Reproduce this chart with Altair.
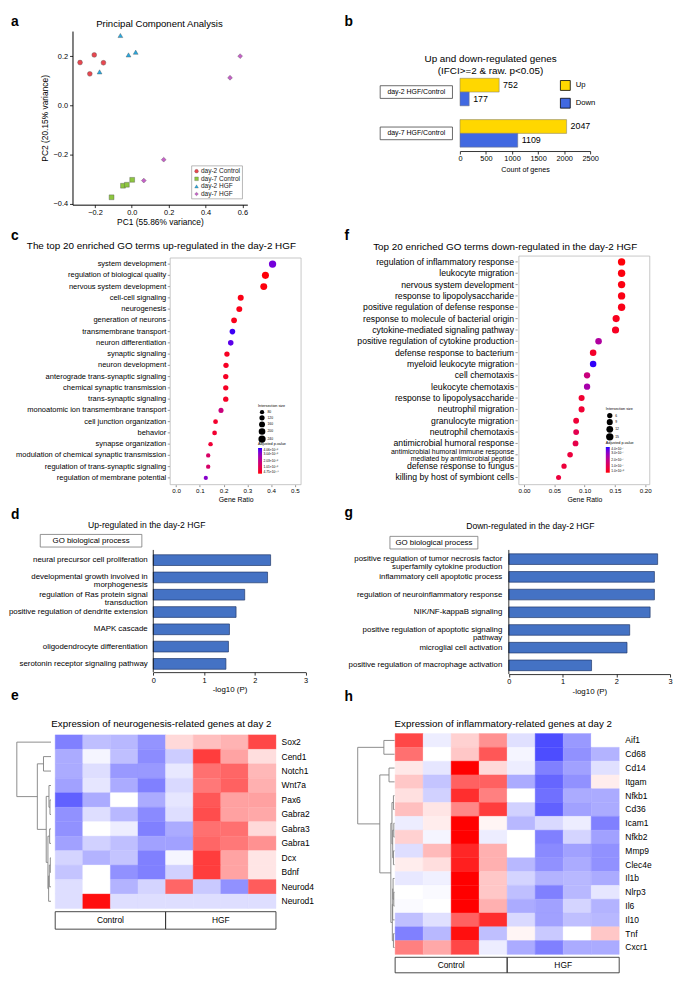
import altair as alt
import pandas as pd

FONT = "Liberation Sans"

# ---------------- data ----------------
pca_groups = ["day-2 Control", "day-7 Control", "day-2 HGF", "day-7 HGF"]
pca_colors = ["#E8474F", "#8DC63F", "#27A9E1", "#C660C8"]
pca_shapes = ["circle", "square", "triangle-up", "diamond"]
pc1_d2_control = [-0.281, -0.228, -0.204, -0.154]
pc2_d2_control = [0.174, 0.128, 0.205, 0.173]
pc1_d7_control = [-0.110, -0.048, -0.027, 0.002]
pc2_d7_control = [-0.374, -0.327, -0.323, -0.303]
pc1_d2_hgf = [-0.062, -0.175, -0.018, 0.021]
pc2_d2_hgf = [0.284, 0.136, 0.205, 0.216]
pc1_d7_hgf = [0.588, 0.533, 0.173, 0.065]
pc2_d7_hgf = [0.200, 0.112, -0.221, -0.306]

deg_comparisons = ["day-2 HGF/Control", "day-7 HGF/Control"]
deg_series = ["Up", "Down"]
deg_colors = ["#FFD700", "#4169E1"]
deg_up = [752, 2047]
deg_down = [177, 1109]

c_terms = ["system development", "regulation of biological quality", "nervous system development",
           "cell-cell signaling", "neurogenesis", "generation of neurons", "transmembrane transport",
           "neuron differentiation", "synaptic signaling", "neuron development",
           "anterograde trans-synaptic signaling", "chemical synaptic transmission",
           "trans-synaptic signaling", "monoatomic ion transmembrane transport",
           "cell junction organization", "behavior", "synapse organization",
           "modulation of chemical synaptic transmission", "regulation of trans-synaptic signaling",
           "regulation of membrane potential"]
c_ratio = [0.406, 0.376, 0.369, 0.272, 0.266, 0.244, 0.237, 0.230, 0.214, 0.210,
           0.209, 0.209, 0.209, 0.189, 0.166, 0.162, 0.145, 0.135, 0.135, 0.125]
c_count = [244, 226, 221, 163, 160, 146, 142, 138, 128, 126, 125, 125, 125, 113, 100, 97, 87, 81, 81, 75]
c_padj = [3.45, 0.05, 0.08, 0.15, 0.18, 0.22, 3.9, 3.7, 0.3, 0.32, 0.33, 0.34, 0.35, 1.8, 0.45, 0.5,
          0.6, 1.4, 1.45, 3.2]

f_terms = ["regulation of inflammatory response", "leukocyte migration", "nervous system development",
           "response to lipopolysaccharide", "positive regulation of defense response",
           "response to molecule of bacterial origin", "cytokine-mediated signaling pathway",
           "positive regulation of cytokine production", "defense response to bacterium",
           "myeloid leukocyte migration", "cell chemotaxis", "leukocyte chemotaxis",
           "response to lipopolysaccharide", "neutrophil migration", "granulocyte migration",
           "neutrophil chemotaxis", "antimicrobial humoral response",
           "antimicrobial humoral immune response\nmediated by antimicrobial peptide",
           "defense response to fungus", "killing by host of symbiont cells"]
f_ratio = [0.161, 0.161, 0.161, 0.161, 0.161, 0.152, 0.151, 0.123, 0.114, 0.114,
           0.104, 0.104, 0.095, 0.095, 0.086, 0.086, 0.085, 0.076, 0.066, 0.057]
f_count = [15, 15, 15, 15, 15, 14, 14, 11, 11, 11, 10, 10, 9, 9, 8, 8, 8, 7, 6, 5]
f_padj = [0.05, 0.1, 0.12, 0.15, 0.18, 0.25, 0.3, 2.4, 0.4, 3.9, 1.8, 2.6, 0.5, 0.55, 0.6, 1.0,
          0.9, 0.7, 0.65, 0.7]

d_terms = ["neural precursor cell proliferation", "developmental growth involved in\nmorphogenesis",
           "regulation of Ras protein signal\ntransduction", "positive regulation of dendrite extension",
           "MAPK cascade", "oligodendrocyte differentiation", "serotonin receptor signaling pathway"]
d_logp = [2.31, 2.25, 1.80, 1.63, 1.50, 1.48, 1.43]

g_terms = ["positive regulation of tumor necrosis factor\nsuperfamily cytokine production",
           "inflammatory cell apoptotic process", "regulation of neuroinflammatory response",
           "NIK/NF-kappaB signaling", "positive regulation of apoptotic signaling\npathway",
           "microglial cell activation", "positive regulation of macrophage activation"]
g_logp = [2.77, 2.71, 2.71, 2.63, 2.25, 2.20, 1.54]

sample_groups = ["Control", "Control", "Control", "Control", "HGF", "HGF", "HGF", "HGF"]

e_genes = ["Sox2", "Cend1", "Notch1", "Wnt7a", "Pax6", "Gabra2", "Gabra3", "Gabra1", "Dcx", "Bdnf",
           "Neurod4", "Neurod1"]
e_values = [
    [-0.50, -0.25, -0.28, -0.42, 0.15, 0.25, 0.30, 0.72],
    [-0.33, -0.04, -0.25, -0.45, -0.20, 0.76, 0.36, 0.13],
    [-0.33, -0.13, -0.40, -0.40, -0.09, 0.56, 0.60, 0.28],
    [-0.37, -0.10, -0.33, -0.50, -0.15, 0.53, 0.62, 0.31],
    [-0.62, -0.33, 0.00, -0.33, -0.10, 0.66, 0.37, 0.37],
    [-0.43, -0.13, -0.28, -0.46, -0.13, 0.70, 0.37, 0.34],
    [-0.43, 0.00, -0.07, -0.50, -0.33, 0.56, 0.56, 0.15],
    [-0.37, -0.18, -0.25, -0.37, -0.37, 0.60, 0.53, 0.43],
    [-0.17, -0.30, -0.23, -0.50, -0.04, 0.76, 0.36, 0.10],
    [-0.23, 0.00, -0.43, -0.50, -0.18, 0.76, 0.36, 0.10],
    [-0.13, 0.00, -0.30, -0.17, 0.60, -0.21, -0.43, 0.64],
    [-0.13, 0.94, -0.13, -0.13, -0.13, -0.13, -0.13, -0.13],
]
# dendrogram: (left, right, merge height), leaves are row indices
e_tree = (0, ((1, 2, 0.22),
              ((3, (4, 5, 0.03), 0.06),
               ((6, 7, 0.04), (((8, 9, 0.02), 10, 0.05), 11, 0.07), 0.09), 0.14), 0.40), 1.0)

h_genes = ["Aif1", "Cd68", "Cd14", "Itgam", "Nfkb1", "Cd36", "Icam1", "Nfkb2", "Mmp9", "Clec4e",
           "Il1b", "Nlrp3", "Il6", "Il10", "Tnf", "Cxcr1"]
h_values = [
    [0.72, -0.07, 0.18, 0.43, -0.12, -0.70, -0.40, 0.00],
    [0.56, 0.00, 0.22, 0.66, -0.04, -0.70, -0.43, -0.30],
    [0.09, -0.10, 1.00, 0.15, -0.07, -0.50, -0.37, -0.12],
    [0.22, -0.23, 0.62, 0.62, -0.33, -0.60, -0.43, 0.07],
    [0.12, -0.18, 0.82, 0.50, 0.00, -0.56, -0.33, -0.33],
    [0.25, 0.10, 0.47, 0.76, -0.18, -0.62, -0.37, -0.33],
    [-0.07, 0.07, 1.00, 0.04, -0.28, -0.15, -0.07, -0.50],
    [0.18, -0.04, 1.00, -0.07, 0.00, -0.50, -0.17, -0.37],
    [-0.13, 0.27, 0.85, 0.31, 0.00, -0.46, -0.37, -0.43],
    [0.07, 0.13, 0.88, 0.31, -0.28, -0.43, -0.33, -0.43],
    [-0.09, -0.06, 1.00, 0.22, -0.17, -0.30, -0.28, -0.33],
    [0.00, -0.02, 1.00, 0.22, -0.25, -0.50, -0.28, -0.10],
    [-0.02, 0.00, 1.00, 0.31, -0.33, -0.37, -0.17, -0.30],
    [-0.25, -0.12, 0.62, 0.82, -0.15, -0.37, -0.25, -0.28],
    [-0.50, -0.28, 0.94, -0.25, 0.04, -0.21, 0.00, 0.22],
    [0.50, 0.34, 0.72, -0.07, -0.33, -0.50, -0.33, -0.33],
]
h_tree = ((0, 1, 0.29),
          ((2, 3, 0.15),
           (((4, 5, 0.03), ((6, 7, 0.02), (8, 9, 0.03), 0.05), 0.07),
            (((10, (11, 12, 0.02), 0.04), 13, 0.05), (14, 15, 0.03), 0.06), 0.10), 0.40), 1.0)

# ---------------- layout helpers ----------------
def X(r):
    return (r - 4) * 0.99


def Y(r):
    return (r - 5) * 0.983


COLX = [0, 338]
COLW = [338, 327]
ROWY = [0, 213, 494, 683]
ROWH = [213, 281, 189, 287]


class Frame:
    def __init__(self, col, row):
        self.ox = COLX[col]
        self.oy = ROWY[row]
        self.w = COLW[col]
        self.h = ROWH[row]

    def x(self, r):
        return round(X(r) - self.ox, 2)

    def y(self, r):
        return round(Y(r) - self.oy, 2)


ONE = pd.DataFrame({"k": [0]})


def text_at(fr, txt, rx, ry, size, weight="normal", align="center", baseline="middle", **kw):
    return alt.Chart(ONE).mark_text(text=txt, fontSize=size, fontWeight=weight, align=align,
                                    baseline=baseline, font=FONT, color="black", **kw).encode(
        x=alt.value(max(0, fr.x(rx))), y=alt.value(max(0.5, fr.y(ry))))


def letter(fr, ch, rx, ry_base):
    return text_at(fr, ch, rx, ry_base, 14, weight="bold", align="left", baseline="alphabetic")


def box_at(fr, x0, x1, y0, y1, stroke="#444", sw=0.8):
    return alt.Chart(ONE).mark_rect(fill="white", fillOpacity=0, stroke=stroke, strokeWidth=sw).encode(
        x=alt.value(fr.x(x0)), x2=alt.value(fr.x(x1)), y=alt.value(fr.y(y0)), y2=alt.value(fr.y(y1)))


# ---------------- panel a ----------------
fa = Frame(0, 0)
pca_rows = []
for g, xs_, ys_ in zip(pca_groups,
                       [pc1_d2_control, pc1_d7_control, pc1_d2_hgf, pc1_d7_hgf],
                       [pc2_d2_control, pc2_d7_control, pc2_d2_hgf, pc2_d7_hgf]):
    for a_, b_ in zip(xs_, ys_):
        pca_rows.append({"group": g, "pc1": a_, "pc2": b_})
pca_df = pd.DataFrame(pca_rows)
leg_df = pd.DataFrame({"group": pca_groups})

xs_a = alt.Scale(domain=[-0.322, 0.627], range=[fa.x(67), fa.x(246)], nice=False, zero=False)
ys_a = alt.Scale(domain=[-0.404, 0.302], range=[fa.y(197), fa.y(18)], nice=False, zero=False)
col_a = alt.Scale(domain=pca_groups, range=pca_colors)
shp_a = alt.Scale(domain=pca_groups, range=pca_shapes)
pts_a = alt.Chart(pca_df).mark_point(filled=True, size=24, stroke="#555", strokeWidth=0.4, opacity=1).encode(
    x=alt.X("pc1:Q", scale=xs_a, axis=alt.Axis(values=[-0.2, 0, 0.2, 0.4, 0.6], format=".1f",
                                                 offset=fa.y(197) - fa.h, tickSize=3, labelFontSize=7.5,
                                                 labelPadding=1, title="PC1 (55.86% variance)",
                                                 titleFontSize=8.5, titlePadding=2, labelOverlap=False,
                                                 labelFlush=False)),
    y=alt.Y("pc2:Q", scale=ys_a, axis=alt.Axis(values=[-0.4, -0.2, 0, 0.2], format=".1f",
                                                 offset=-fa.x(67), tickSize=3, labelFontSize=7.5,
                                                 labelPadding=2, title="PC2 (20.15% variance)",
                                                 titleFontSize=8.5, titlePadding=4, labelOverlap=False,
                                                 labelFlush=False)),
    color=alt.Color("group:N", scale=col_a, legend=None),
    shape=alt.Shape("group:N", scale=shp_a, legend=None),
)
ys_leg = alt.Scale(type="point", domain=pca_groups, range=[fa.y(162.5), fa.y(186)], padding=0)
leg_box = box_at(fa, 189, 241, 157, 191, stroke="#999", sw=0.7)
leg_pts = alt.Chart(leg_df).mark_point(filled=True, size=14, stroke="#555", strokeWidth=0.3, opacity=1).encode(
    x=alt.value(fa.x(194)), y=alt.Y("group:N", scale=ys_leg, axis=None),
    color=alt.Color("group:N", scale=col_a, legend=None),
    shape=alt.Shape("group:N", scale=shp_a, legend=None))
leg_txt = alt.Chart(leg_df).mark_text(align="left", baseline="middle", fontSize=6.6, font=FONT,
                                      color="#222").encode(
    x=alt.value(fa.x(198.5)), y=alt.Y("group:N", scale=ys_leg, axis=None), text="group:N")
panel_a = alt.layer(
    letter(fa, "a", 2, 12.5),
    text_at(fa, "Principal Component Analysis", 156, 3.5, 9.7, baseline="top"),
    pts_a, leg_box, leg_pts, leg_txt,
).resolve_scale(y="independent").properties(width=fa.w, height=fa.h)

# ---------------- panel b ----------------
fb = Frame(1, 0)
b_rows = []
for gi, comp in enumerate(deg_comparisons):
    for si, (s, v) in enumerate(zip(deg_series, [deg_up[gi], deg_down[gi]])):
        b_rows.append({"comp": comp, "series": s, "v": v, "row": gi * 3 + si})
b_df = pd.DataFrame(b_rows)
b_grp = pd.DataFrame({"comp": deg_comparisons, "c": [gi * 3 + 1 for gi in range(len(deg_comparisons))]})

xs_b = alt.Scale(domain=[0, 2500], range=[fb.x(463.7), fb.x(597)], nice=False, zero=False)
ys_b = alt.Scale(domain=[0, 5], range=[fb.y(66.7), fb.y(137.7)], nice=False, zero=False)
bars_b = alt.Chart(b_df).transform_calculate(row1="datum.row + 1").mark_rect(stroke="#777", strokeWidth=0.5).encode(
    x=alt.X("v:Q", scale=xs_b, axis=alt.Axis(values=[0, 500, 1000, 1500, 2000, 2500], format="d",
                                               offset=fb.y(141.7) - fb.h, labelOverlap=False, labelFlush=False,
                                               tickSize=3, labelFontSize=7.5, labelPadding=1,
                                               title="Count of genes", titleFontSize=7.3, titlePadding=3,
                                               domainWidth=0.8)),
    x2=alt.datum(0),
    y=alt.Y("row:Q", scale=ys_b, axis=None), y2="row1:Q",
    color=alt.Color("series:N", scale=alt.Scale(domain=deg_series, range=deg_colors),
                    legend=alt.Legend(orient="none", legendX=fb.x(566), legendY=fb.y(68.5), title=None,
                                      symbolType="square", symbolSize=100, symbolStrokeColor="black",
                                      symbolStrokeWidth=0.8, labelFontSize=7.8, labelOffset=5, rowPadding=3)),
)
vals_b = alt.Chart(b_df).transform_calculate(rc="datum.row + 0.5").mark_text(
    align="left", baseline="middle", dx=4, fontSize=9, font=FONT, color="black").encode(
    x=alt.X("v:Q", scale=xs_b), y=alt.Y("rc:Q", scale=ys_b, axis=None), text="v:Q")
grp_box_b = alt.Chart(b_grp).transform_calculate(c0="datum.c - 0.46", c1="datum.c + 0.46").mark_rect(
    fill="white", stroke="#444", strokeWidth=0.8).encode(
    x=alt.value(fb.x(382)), x2=alt.value(fb.x(456)), y=alt.Y("c0:Q", scale=ys_b, axis=None), y2="c1:Q")
grp_txt_b = alt.Chart(b_grp).mark_text(fontSize=7, font=FONT, color="black").encode(
    x=alt.value(fb.x(419)), y=alt.Y("c:Q", scale=ys_b, axis=None), text="comp:N")
panel_b = alt.layer(
    letter(fb, "b", 345, 13),
    text_at(fb, ["Up and down-regulated genes", "(IFCI>=2 & raw. p<0.05)"], 495, 47, 10, lineHeight=12),
    bars_b, vals_b, grp_box_b, grp_txt_b,
).properties(width=fb.w, height=fb.h)


# ---------------- dot-plot panels c, f ----------------
ONE_LINE = "indexof(datum.term, '\\n') < 0"
TWO_LINE = "indexof(datum.term, '\\n') >= 0"


def dot_panel(fr, ch, ch_pos, title, title_pos, terms, ratio, count, padj, frame, xdom, xticks, xfmt,
              rows_ref, label_right, label_size, size_dom, size_rng, size_vals, cmax, cvals, cexpr,
              size_leg, col_leg):
    df = pd.DataFrame({"rank": list(range(len(terms))), "term": terms, "ratio": ratio,
                       "count": count, "padj": padj})
    xs = alt.Scale(domain=xdom, range=[fr.x(frame[0]), fr.x(frame[1])], nice=False, zero=False)
    ys = alt.Scale(domain=[0, len(terms) - 1], range=[fr.y(rows_ref[0]), fr.y(rows_ref[1])],
                   nice=False, zero=False)
    frame_l = box_at(fr, frame[0], frame[1], frame[2], frame[3], stroke="#b8b8b8", sw=0.8)
    ticks = alt.Chart(df).mark_rule(color="#555", strokeWidth=0.6).encode(
        x=alt.value(fr.x(label_right + 1.5)), x2=alt.value(fr.x(label_right + 3.8)),
        y=alt.Y("rank:Q", scale=ys, axis=None))
    labels = alt.Chart(df).transform_filter(ONE_LINE).mark_text(
        align="right", baseline="middle", fontSize=label_size, font=FONT, color="black").encode(
        x=alt.value(fr.x(label_right)), y=alt.Y("rank:Q", scale=ys, axis=None), text="term:N")
    labels2 = alt.Chart(df).transform_filter(TWO_LINE).mark_text(
        align="right", baseline="middle", fontSize=label_size * 0.8, lineBreak="\n",
        lineHeight=label_size * 0.74, dy=-2.6, font=FONT, color="black").encode(
        x=alt.value(fr.x(label_right)), y=alt.Y("rank:Q", scale=ys, axis=None), text="term:N")
    dots = alt.Chart(df).mark_circle(opacity=1, color="black").encode(
        x=alt.X("ratio:Q", scale=xs, axis=alt.Axis(values=xticks, format=xfmt, offset=fr.y(frame[3]) - fr.h,
                                                     domain=False, tickSize=2, tickColor="#777",
                                                     labelFontSize=6.3, labelPadding=1, title="Gene Ratio",
                                                     titleFontSize=7, titlePadding=2, labelOverlap=False,
                                                     labelFlush=False)),
        y=alt.Y("rank:Q", scale=ys, axis=None),
        size=alt.Size("count:Q", scale=alt.Scale(domain=size_dom, range=size_rng, zero=False),
                      legend=alt.Legend(orient="none", legendX=fr.x(size_leg[0]), legendY=fr.y(size_leg[1]),
                                        title="Intersection size", titleFontSize=3.8, titleFontWeight="normal",
                                        labelFontSize=3.4, values=size_vals, symbolFillColor="black",
                                        symbolStrokeColor="black", symbolStrokeWidth=0, rowPadding=0.2,
                                        titlePadding=1.5, labelOffset=1.5, padding=0, symbolType="circle")),
        color=alt.Color("padj:Q", scale=alt.Scale(domain=[0, cmax], range=["#ff0000", "#0000ff"],
                                                   interpolate="lab"),
                        legend=alt.Legend(orient="none", legendX=fr.x(col_leg[0]), legendY=fr.y(col_leg[1]),
                                          title="Adjusted p-value", titleFontSize=3.8, titleFontWeight="normal",
                                          labelFontSize=3.3, gradientLength=26, gradientThickness=4,
                                          values=cvals, labelExpr=cexpr, titlePadding=2, labelOffset=1.5,
                                          direction="vertical", gradientStrokeWidth=0, padding=0)),
    )
    return alt.layer(
        letter(fr, ch, ch_pos[0], ch_pos[1]),
        text_at(fr, title, title_pos[0], title_pos[1], 10),
        frame_l, ticks, labels, labels2, dots,
    ).properties(width=fr.w, height=fr.h)


fc = Frame(0, 1)
panel_c = dot_panel(
    fc, "c", (2, 233), "The top 20 enriched GO terms up-regulated in the day-2 HGF", (158, 240),
    c_terms, c_ratio, c_count, c_padj, (167, 301, 252, 485.7), [-0.025, 0.526],
    [0, 0.1, 0.2, 0.3, 0.4, 0.5], ".1f", (258.3, 478.7), 163, 7.6,
    [75, 245], [18, 55], [80, 120, 160, 200, 240], 4.06, [0, 1.015, 2.03, 3.045, 4.06],
    "datum.value < 0.01 ? '4.75×10⁻¹⁹' : format(datum.value, '.2f') + '×10⁻¹⁰'",
    (257, 403), (257, 442))

ff = Frame(1, 1)
panel_f = dot_panel(
    ff, "f", (345, 233), "Top 20 enriched GO terms down-regulated in the day-2 HGF", (510, 240.7),
    f_terms, f_ratio, f_count, f_padj, (524, 658, 250, 485.7), [-0.0085, 0.2075],
    [0, 0.05, 0.1, 0.15, 0.2], ".2f", (256, 478.3), 519, 8.8,
    [5, 15], [26, 56], [6, 9, 12, 15], 4.0, [0, 1, 2, 3, 4],
    "datum.value < 0.01 ? '1.0×10⁻¹⁰' : format(datum.value, '.1f') + '×10⁻⁷'",
    (613, 406), (613, 441))


# ---------------- bar panels d, g ----------------
def bar_panel(fr, ch, ch_pos, title, title_pos, go_box, terms, vals, x_ref, rows_ref, axis_y, line_top,
              label_right, half):
    df = pd.DataFrame({"rank": list(range(len(terms))), "term": terms, "v": vals})
    xs = alt.Scale(domain=[0, 3], range=[fr.x(x_ref[0]), fr.x(x_ref[1])], nice=False, zero=False)
    ys = alt.Scale(domain=[0, len(terms) - 1], range=[fr.y(rows_ref[0]), fr.y(rows_ref[1])],
                   nice=False, zero=False)
    bars = alt.Chart(df).transform_calculate(
        y0="datum.rank - %s" % half, y1="datum.rank + %s" % half).mark_rect(
        fill="#4472C4", stroke="#22396b", strokeWidth=0.7).encode(
        x=alt.X("v:Q", scale=xs, axis=alt.Axis(values=[0, 1, 2, 3], format="d", offset=fr.y(axis_y) - fr.h,
                                                 tickSize=3, labelFontSize=7.5, labelPadding=1,
                                                 title="-log10 (P)", titleFontSize=8, titlePadding=2,
                                                 domainWidth=0.8, labelOverlap=False, labelFlush=False)),
        x2=alt.datum(0),
        y=alt.Y("y0:Q", scale=ys, axis=None), y2="y1:Q")
    vline = alt.Chart(ONE).mark_rule(color="black", strokeWidth=0.8).encode(
        x=alt.datum(0), y=alt.value(fr.y(line_top)), y2=alt.value(fr.y(axis_y)))
    labels = alt.Chart(df).mark_text(align="right", baseline="middle", fontSize=8, lineBreak="\n",
                                     lineHeight=8, font=FONT, color="black").encode(
        x=alt.value(fr.x(label_right)), y=alt.Y("rank:Q", scale=ys, axis=None), text="term:N")
    return alt.layer(
        letter(fr, ch, ch_pos[0], ch_pos[1]),
        text_at(fr, title, title_pos[0], title_pos[1], 8.7),
        box_at(fr, go_box[0], go_box[1], go_box[2], go_box[3], stroke="#777", sw=0.8),
        text_at(fr, "GO biological process", (go_box[0] + go_box[1]) / 2, (go_box[2] + go_box[3]) / 2, 8),
        bars, vline, labels,
    ).properties(width=fr.w, height=fr.h)


fd = Frame(0, 2)
panel_d = bar_panel(fd, "d", (2, 521.5), "Up-regulated in the day-2 HGF", (143, 527), (34, 138, 537, 550),
                    d_terms, d_logp, (149.7, 305.7), (563.5, 670.5), 679, 553, 144, 0.31)
fg = Frame(1, 2)
panel_g = bar_panel(fg, "g", (345, 519), "Down-regulated in the day-2 HGF", (535.7, 528), (392, 482, 539, 552),
                    g_terms, g_logp, (513.7, 678.7), (562.5, 672), 681, 553, 507, 0.30)


# ---------------- heatmap panels e, h ----------------
def dendro_segments(tree):
    segs = []

    def rec(n):
        if isinstance(n, int):
            return n + 0.5, 0.0
        l, r, hgt = n
        yl, hl = rec(l)
        yr, hr = rec(r)
        segs.append({"h1": hl, "h2": hgt, "y1": yl, "y2": yl})
        segs.append({"h1": hr, "h2": hgt, "y1": yr, "y2": yr})
        segs.append({"h1": hgt, "h2": hgt, "y1": yl, "y2": yr})
        return (yl + yr) / 2, hgt

    rec(tree)
    return pd.DataFrame(segs)


def heat_panel(fr, ch, ch_pos, title, title_pos, genes, vals, tree, hx, hy, label_x, dend_x, box_y):
    n = len(genes)
    cells = pd.DataFrame([{"gene": g, "r": i, "c": j, "z": vals[i][j]}
                          for i, g in enumerate(genes) for j in range(len(sample_groups))])
    gdf = pd.DataFrame({"grp": sample_groups, "c": list(range(len(sample_groups)))})
    gbox = gdf.groupby("grp", sort=False)["c"].agg(["min", "max"]).reset_index()
    gbox["c0"] = gbox["min"]
    gbox["c1"] = gbox["max"] + 1
    gbox["cm"] = (gbox["c0"] + gbox["c1"]) / 2
    gbox = gbox[["grp", "c0", "c1", "cm"]]
    xs = alt.Scale(domain=[0, len(sample_groups)], range=[fr.x(hx[0]), fr.x(hx[1])], nice=False, zero=False)
    ys = alt.Scale(domain=[0, n], range=[fr.y(hy[0]), fr.y(hy[1])], nice=False, zero=False)
    ds = alt.Scale(domain=[0, 1], range=[fr.x(dend_x[0]), fr.x(dend_x[1])], nice=False, zero=False)
    cmap = alt.Scale(domain=[-1, 0, 1], range=["#0000ff", "#ffffff", "#ff0000"], interpolate="rgb")
    heat = alt.Chart(cells).transform_calculate(c1="datum.c + 1", r1="datum.r + 1").mark_rect(strokeWidth=0.4).encode(
        x=alt.X("c:Q", scale=xs, axis=None), x2="c1:Q",
        y=alt.Y("r:Q", scale=ys, axis=None), y2="r1:Q",
        color=alt.Color("z:Q", scale=cmap, legend=None),
        stroke=alt.Stroke("z:Q", scale=cmap, legend=None))
    labs = alt.Chart(pd.DataFrame({"gene": genes, "r": list(range(n))})).transform_calculate(
        rc="datum.r + 0.5").mark_text(align="left", baseline="middle", fontSize=8.6, font=FONT, color="black").encode(
        x=alt.value(fr.x(label_x)), y=alt.Y("rc:Q", scale=ys, axis=None), text="gene:N")
    dend = alt.Chart(dendro_segments(tree)).mark_rule(color="#808080", strokeWidth=0.9).encode(
        x=alt.X("h1:Q", scale=ds, axis=None), x2="h2:Q",
        y=alt.Y("y1:Q", scale=ys, axis=None), y2="y2:Q")
    boxes = alt.Chart(gbox).mark_rect(fill="white", fillOpacity=0, stroke="#333", strokeWidth=0.9).encode(
        x=alt.X("c0:Q", scale=xs, axis=None), x2="c1:Q",
        y=alt.value(fr.y(box_y[0])), y2=alt.value(fr.y(box_y[1])))
    btxt = alt.Chart(gbox).mark_text(fontSize=8.5, font=FONT, color="black").encode(
        x=alt.X("cm:Q", scale=xs, axis=None), y=alt.value(fr.y((box_y[0] + box_y[1]) / 2)), text="grp:N")
    return alt.layer(
        letter(fr, ch, ch_pos[0], ch_pos[1]),
        text_at(fr, title, title_pos[0], title_pos[1], 9.9),
        heat, dend, labs, boxes, btxt,
    ).resolve_scale(x="independent").properties(width=fr.w, height=fr.h)


fe = Frame(0, 3)
panel_e = heat_panel(fe, "e", (2, 708), "Expression of neurogenesis-related genes at day 2", (158, 732),
                     e_genes, e_values, e_tree, (49.3, 275.3), (743.7, 922.7), 281, (45, 10), (926, 944))
fh = Frame(1, 3)
panel_h = heat_panel(fh, "h", (345, 709), "Expression of inflammatory-related genes at day 2", (508, 732),
                     h_genes, h_values, h_tree, (397.3, 626.7), (742.3, 970), 633, (396.7, 359), (973, 989))

chart = alt.concat(panel_a, panel_b, panel_c, panel_f, panel_d, panel_g, panel_e, panel_h,
                   columns=2, spacing=0, bounds="flush", align="each").properties(padding=0)
chart = chart.resolve_scale(color="independent", size="independent", shape="independent",
                            stroke="independent").resolve_legend(color="independent", size="independent",
                                                                 shape="independent")
chart = chart.configure(font=FONT).configure_view(stroke=None).configure_axis(
    grid=False, labelFont=FONT, titleFont=FONT, domainColor="black", tickColor="black",
    labelColor="black", titleColor="black", titleFontWeight="normal", tickWidth=0.8
).configure_legend(labelFont=FONT, titleFont=FONT, labelColor="black", titleColor="black")

chart.save("out.html", embed_options={"renderer": "svg", "actions": False})
